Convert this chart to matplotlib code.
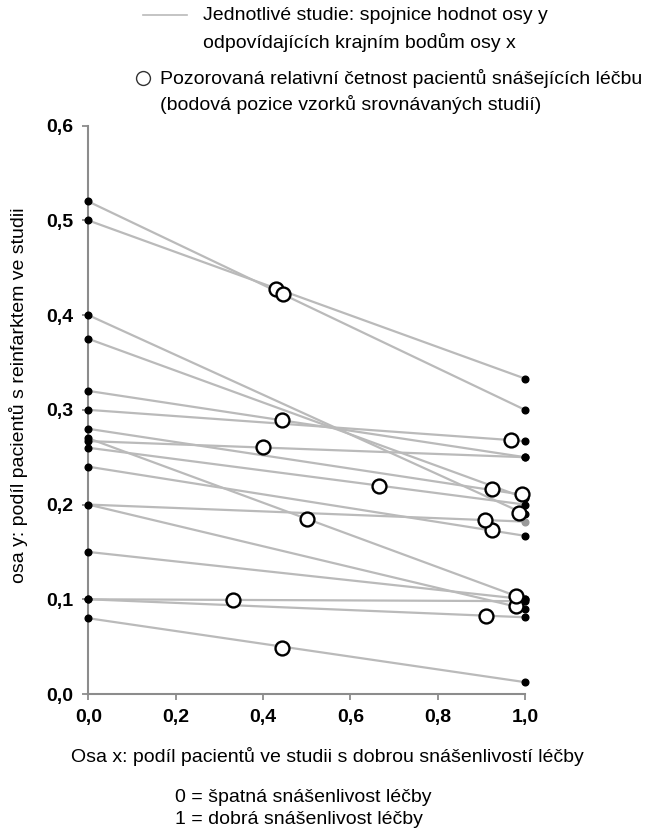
import matplotlib
matplotlib.use('Agg')
import matplotlib.pyplot as plt
from matplotlib.lines import Line2D
from matplotlib.ticker import FuncFormatter

plt.rcParams['font.family'] = ['Liberation Sans', 'DejaVu Sans']

# Each study: y value at x=0 (poor tolerance), y value at x=1 (good tolerance)
y_left = [0.50, 0.52, 0.32, 0.30, 0.267, 0.26, 0.28, 0.27, 0.375, 0.40,
          0.24, 0.20, 0.20, 0.15, 0.10, 0.10, 0.08]
y_right = [0.333, 0.30, 0.25, 0.267, 0.25, 0.20, 0.21, 0.10, 0.207, 0.19,
           0.167, 0.182, 0.09, 0.10, 0.098, 0.081, 0.0125]
# Observed point of each study (share with good tolerance, share with reinfarction)
x_obs = [0.43, 0.445, 0.443, 0.967, 0.40, 0.666, 0.924, 0.50, 0.994, 0.987,
         0.924, 0.908, 0.979, 0.979, 0.331, 0.911, 0.443]
y_obs = [0.428, 0.422, 0.289, 0.268, 0.261, 0.22, 0.216, 0.185, 0.211, 0.191,
         0.173, 0.184, 0.093, 0.103, 0.099, 0.082, 0.049]
grey_study = 11

x_ticks = [0.0, 0.2, 0.4, 0.6, 0.8, 1.0]
y_ticks = [0.0, 0.1, 0.2, 0.3, 0.4, 0.5, 0.6]

W, H = 650, 835
fig = plt.figure(figsize=(W / 100, H / 100), dpi=100)
ax = fig.add_axes([88.3 / W, 1 - 694 / H, (525 - 88.3) / W, (694 - 125.7) / H])

line_col = '#bababa'
for i, (a, b) in enumerate(zip(y_left, y_right)):
    ax.plot([0, 1], [a, b], color=line_col, lw=1.6, zorder=2,
            solid_capstyle='butt', clip_on=False)

for i, (a, b) in enumerate(zip(y_left, y_right)):
    c = '#9a9a9a' if i == grey_study else 'black'
    ax.plot([0, 1], [a, b], linestyle='none', marker='o', ms=4.8,
            mfc=c, mec=c, zorder=3, clip_on=False)

ax.plot(x_obs, y_obs, linestyle='none', marker='o', ms=10, mfc='white',
        mec='black', mew=1.7, zorder=4, clip_on=False)

ax.set_xlim(0, 1)
ax.set_ylim(0, 0.6)
ax.set_xticks(x_ticks)
ax.set_yticks(y_ticks)
fmt = FuncFormatter(lambda v, p: f"{v:.1f}".replace('.', ','))
ax.xaxis.set_major_formatter(fmt)
ax.yaxis.set_major_formatter(fmt)
for s in ['top', 'right']:
    ax.spines[s].set_visible(False)
spine_col = '#8c8c8c'
for s in ['left', 'bottom']:
    ax.spines[s].set_color(spine_col)
    ax.spines[s].set_linewidth(1.5)
ax.tick_params(direction='out', length=4.2, width=1.3, color=spine_col,
               labelcolor='black', labelsize=14, pad=6.5)
for lab in ax.get_xticklabels() + ax.get_yticklabels():
    lab.set_fontweight('bold')

def fx(px):
    return px / W

def fy(py):
    return 1 - py / H

fs = 14
# Legend (manual)
fig.add_artist(Line2D([fx(143), fx(187)], [fy(15), fy(15)], color=line_col, lw=1.2))
fig.text(fx(203), fy(15), "Jednotlivé studie: spojnice hodnot osy y", ha='left', va='center', fontsize=fs)
fig.text(fx(203), fy(43), "odpovídajících krajním bodům osy x", ha='left', va='center', fontsize=fs)
fig.add_artist(Line2D([fx(143)], [fy(78)], linestyle='none', marker='o', ms=10,
                      mfc='white', mec='#333333', mew=1.0))
fig.text(fx(160), fy(78), "Pozorovaná relativní četnost pacientů snášejících léčbu", ha='left', va='center', fontsize=fs)
fig.text(fx(160), fy(104), "(bodová pozice vzorků srovnávaných studií)", ha='left', va='center', fontsize=fs)

# Axis labels
fig.text(fx(19), fy(395), "osa y: podíl pacientů s reinfarktem ve studii", rotation=90,
         ha='center', va='center', fontsize=fs)
fig.text(fx(327), fy(757), "Osa x: podíl pacientů ve studii s dobrou snášenlivostí léčby",
         ha='center', va='center', fontsize=fs)
fig.text(fx(175), fy(798), "0 = špatná snášenlivost léčby", ha='left', va='center', fontsize=fs)
fig.text(fx(175), fy(819), "1 = dobrá snášenlivost léčby", ha='left', va='center', fontsize=fs)

fig.savefig('out.png', dpi=100)
